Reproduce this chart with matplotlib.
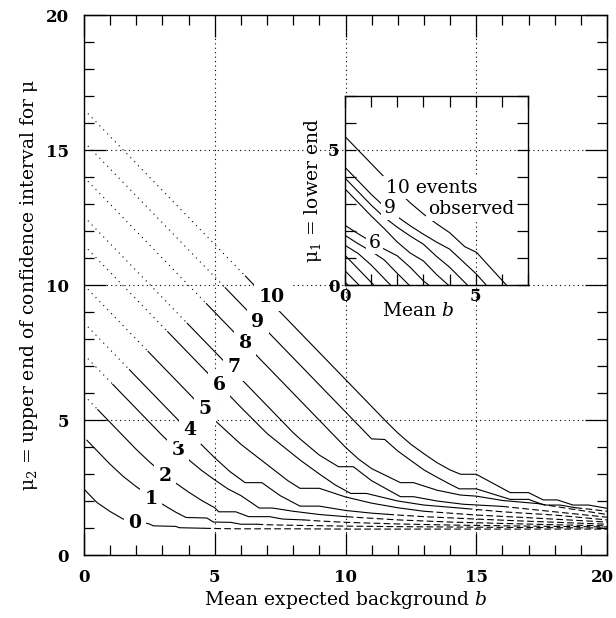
import numpy as np
import matplotlib
matplotlib.use("Agg")
import matplotlib.pyplot as plt
from matplotlib.ticker import MultipleLocator, FixedLocator, FuncFormatter

plt.rcParams["font.family"] = ["DejaVu Serif"]
plt.rcParams["mathtext.fontset"] = "dejavuserif"

#### Values
n_obs = [0, 1, 2, 3, 4, 5, 6, 7, 8, 9, 10]

# upper end mu2 against background b, one list per number of events
upper_b = [
    [0, 0.5, 1, 1.5, 2, 2.5, 2.65, 3.5, 3.65, 4.6, 5, 6, 8, 10, 12, 14, 16, 18, 20],
    [0, 0.5, 1, 1.5, 2, 2.5, 3, 3.5, 3.9, 4.7, 4.95, 5.6, 6.0, 6.6, 7, 8, 10, 12, 15, 20],
    [0, 0.5, 1, 1.5, 2, 2.5, 3, 3.5, 4, 4.5, 5, 5.15, 5.8, 6.3, 7.1, 7.6, 8.4, 9, 10, 12, 14, 17, 20],
    [0, 0.5, 1, 1.5, 2, 2.5, 3, 3.5, 4, 4.5, 5, 5.5, 6, 6.7, 7.2, 8, 9, 10, 11, 12, 14, 16, 18, 20],
    [0, 4, 4.5, 5, 5.58, 6.16, 6.8, 7.5, 8.26, 9.0, 10, 11, 12, 13, 15, 17, 20],
    [0, 5, 6, 7, 7.8, 8.26, 9.0, 10, 11, 12, 13, 15, 17, 20],
    [0, 6, 7, 8.26, 9, 9.6, 10.2, 10.8, 12, 13, 14.6, 16, 18, 20],
    [0, 8, 8.26, 9, 9.73, 10.3, 11, 12.1, 12.6, 13.5, 14.5, 16, 18, 20],
    [0, 10, 10.5, 11, 12.1, 12.6, 13.5, 14.4, 15, 16, 17.4, 18, 19, 20],
    [0, 11, 11.5, 12, 12.5, 13, 13.5, 14, 14.35, 15, 16.3, 17, 17.6, 18.2, 18.8, 19.3, 20],
    [0, 11.6, 12, 12.5, 13, 13.5, 14, 14.4, 15, 16.3, 17, 17.56, 18.1, 18.7, 19.3, 20],
]
upper_mu = [
    [2.44, 1.94, 1.61, 1.33, 1.26, 1.15, 1.08, 1.06, 1.01, 0.99, 0.98, 0.97, 0.97, 0.96, 0.96, 0.96, 0.96, 0.96, 0.96],
    [4.36, 3.86, 3.36, 2.91, 2.53, 2.19, 1.88, 1.59, 1.39, 1.37, 1.22, 1.21, 1.14, 1.14, 1.12, 1.10, 1.07, 1.05, 1.03, 1.00],
    [5.91, 5.41, 4.91, 4.41, 3.91, 3.45, 3.04, 2.67, 2.33, 2.02, 1.75, 1.60, 1.60, 1.42, 1.42, 1.33, 1.30, 1.26, 1.21, 1.15, 1.11, 1.07, 1.04],
    [7.42, 6.92, 6.42, 5.92, 5.42, 4.92, 4.42, 3.95, 3.53, 3.13, 2.78, 2.45, 2.20, 1.74, 1.74, 1.62, 1.50, 1.42, 1.36, 1.30, 1.22, 1.17, 1.12, 1.08],
    [8.60, 4.60, 4.08, 3.60, 3.09, 2.68, 2.68, 2.20, 1.81, 1.81, 1.65, 1.55, 1.48, 1.42, 1.33, 1.25, 1.14],
    [9.99, 4.99, 4.10, 3.35, 2.75, 2.47, 2.47, 2.15, 1.92, 1.75, 1.62, 1.48, 1.38, 1.22],
    [11.47, 5.47, 4.50, 3.52, 3.00, 2.60, 2.28, 2.28, 2.00, 1.85, 1.72, 1.60, 1.48, 1.30],
    [12.53, 4.53, 4.30, 3.70, 3.27, 3.27, 2.75, 2.16, 2.16, 2.00, 1.88, 1.80, 1.60, 1.40],
    [13.99, 3.99, 3.55, 3.20, 2.68, 2.68, 2.40, 2.22, 2.18, 2.02, 1.90, 1.80, 1.65, 1.50],
    [15.30, 4.30, 4.28, 3.85, 3.50, 3.15, 2.88, 2.62, 2.45, 2.45, 2.06, 2.06, 1.85, 1.85, 1.75, 1.70, 1.62],
    [16.50, 4.90, 4.52, 4.10, 3.75, 3.42, 3.15, 2.99, 2.99, 2.31, 2.31, 2.04, 2.04, 1.85, 1.85, 1.73],
]

# b from which the upper curve is drawn dashed
dash_from = [4.6, 6.6, 8.4, 10.05, 11.6, 13.1, 14.6, 16.0, 17.4, 18.8, 99]

# lower end mu1 (inset), n = 1..10
lower_b = [
    [0, 0.11],
    [0, 0.5, 0.53],
    [0, 0.5, 1, 1.1],
    [0, 0.5, 1, 1.5, 1.74],
    [0, 0.5, 1, 1.5, 2, 2.45],
    [0, 0.5, 1, 1.5, 2, 2.5, 3, 3.2],
    [0, 0.5, 1, 1.5, 2, 2.5, 3, 3.5, 3.95],
    [0, 0.5, 1, 1.5, 2, 2.5, 3, 3.5, 4, 4.68],
    [0, 0.5, 1, 1.5, 2, 2.5, 3, 3.5, 4, 5, 5.4],
    [0, 0.5, 1, 1.5, 2, 2.5, 3, 3.5, 4, 4.58, 5.03, 6.17],
]
lower_mu = [
    [0.11, 0],
    [0.53, 0.03, 0],
    [1.10, 0.60, 0.10, 0],
    [1.47, 1.17, 0.74, 0.24, 0],
    [1.84, 1.53, 1.25, 0.93, 0.43, 0],
    [2.21, 1.90, 1.61, 1.33, 1.08, 0.65, 0.15, 0],
    [3.56, 3.06, 2.56, 2.09, 1.59, 1.18, 0.89, 0.39, 0],
    [3.96, 3.46, 2.96, 2.51, 2.14, 1.81, 1.51, 1.06, 0.66, 0],
    [4.36, 3.86, 3.36, 2.91, 2.53, 2.19, 1.88, 1.59, 1.33, 0.43, 0],
    [5.50, 5.00, 4.50, 4.00, 3.50, 3.04, 2.63, 2.27, 1.94, 1.42, 1.21, 0],
]

# where the curve numbers sit
label_b = [1.95, 2.56, 3.10, 3.60, 4.05, 4.63, 5.16, 5.74, 6.16, 6.65, 7.19]
label_mu = [1.19, 2.07, 2.93, 3.89, 4.63, 5.41, 6.30, 6.96, 7.85, 8.63, 9.56]

LW = 0.8
DOT = (0, (1, 4))
DASH = (0, (6, 3))


def piece(bs, ms, a, c):
    inner = [b for b in bs if a < b < c]
    xb = np.array([a] + inner + [c], dtype=float)
    return xb, np.interp(xb, bs, ms)


fig = plt.figure(figsize=(6.16, 6.18), dpi=100)
ax = fig.add_axes([84 / 616, 1 - 555 / 618, 523 / 616, 540 / 618])

for n in n_obs:
    bs, ms = upper_b[n], upper_mu[n]
    b_lo = lower_b[n - 1][-1] if n > 0 else 0.0
    b_hi = min(dash_from[n], 20)
    if b_lo > 0:
        x, y = piece(bs, ms, 0, b_lo)
        ax.plot(x, y, color="black", lw=LW, ls=DOT, zorder=3)
    x, y = piece(bs, ms, b_lo, b_hi)
    ax.plot(x, y, color="black", lw=LW, zorder=3)
    if b_hi < 20:
        x, y = piece(bs, ms, b_hi, 20)
        ax.plot(x, y, color="black", lw=LW, ls=DASH, zorder=3)
    ax.text(label_b[n], label_mu[n], str(n), fontsize=13.5, fontweight="bold",
            ha="center", va="center", zorder=5,
            bbox=dict(boxstyle="square,pad=0.25", fc="white", ec="none"))

ax.set_xlim(0, 20)
ax.set_ylim(0, 20)
ax.xaxis.set_major_locator(MultipleLocator(5))
ax.yaxis.set_major_locator(MultipleLocator(5))
ax.xaxis.set_minor_locator(MultipleLocator(1))
ax.yaxis.set_minor_locator(MultipleLocator(1))
# the "20" at the right end is written separately so it stays on the canvas
ax.xaxis.set_major_formatter(FuncFormatter(lambda v, p: "" if v >= 20 else f"{v:g}"))
ax.tick_params(which="both", direction="in", top=True, right=True, width=0.9)
ax.tick_params(which="major", length=15.5, labelsize=12)
ax.tick_params(which="minor", length=7.5)
ax.tick_params(axis="x", pad=10)
ax.tick_params(axis="y", pad=11)
for lab in ax.get_xticklabels() + ax.get_yticklabels():
    lab.set_fontweight("bold")
ax.annotate("20", xy=(20, 0), xycoords="data", xytext=(-3, -10), textcoords="offset points",
            ha="center", va="top", fontsize=12, fontweight="bold", annotation_clip=False)
ax.grid(True, which="major", color="black", lw=0.8, ls=(0, (1, 3)))
for s in ax.spines.values():
    s.set_linewidth(1.0)
ax.set_xlabel("Mean expected background $b$", fontsize=13.5, labelpad=2)
ax.set_ylabel("μ$_2$ = upper end of confidence interval for μ", fontsize=13.5, labelpad=4)

#### Inset: lower end
axi = fig.add_axes([345 / 616, 1 - 285 / 618, 183 / 616, 189 / 618])
axi.set_zorder(10)
axi.set_facecolor("white")
for k in range(10):
    axi.plot(lower_b[k], lower_mu[k], color="black", lw=LW, zorder=3)

axi.set_xlim(0, 7)
axi.set_ylim(0, 7)
axi.xaxis.set_major_locator(FixedLocator([0, 5]))
axi.yaxis.set_major_locator(FixedLocator([0, 5]))
axi.xaxis.set_minor_locator(MultipleLocator(1))
axi.yaxis.set_minor_locator(MultipleLocator(1))
axi.tick_params(which="both", direction="in", top=True, right=True, length=8, width=0.9)
axi.tick_params(labelsize=12)
axi.tick_params(axis="x", pad=2)
axi.tick_params(axis="y", pad=4)
for lab in axi.get_xticklabels() + axi.get_yticklabels():
    lab.set_fontweight("bold")
axi.grid(True, which="major", color="black", lw=0.8, ls=(0, (1, 3)))
for s in axi.spines.values():
    s.set_linewidth(1.0)
axi.set_xlabel("Mean $b$", fontsize=13.5)
axi.xaxis.set_label_coords(0.40, -0.09)
axi.set_ylabel("μ$_1$ = lower end", fontsize=13.5, labelpad=3)

box = dict(boxstyle="square,pad=0.15", fc="white", ec="none")
axi.text(1.55, 3.61, "10 events", fontsize=13.5, ha="left", va="center", zorder=5, bbox=box)
axi.text(4.84, 2.81, "observed", fontsize=13.5, ha="center", va="center", zorder=5, bbox=box)
axi.text(1.72, 2.85, "9", fontsize=13.5, ha="center", va="center", zorder=5, bbox=box)
axi.text(1.13, 1.57, "6", fontsize=13.5, ha="center", va="center", zorder=5, bbox=box)

fig.savefig("out.png", dpi=100)
